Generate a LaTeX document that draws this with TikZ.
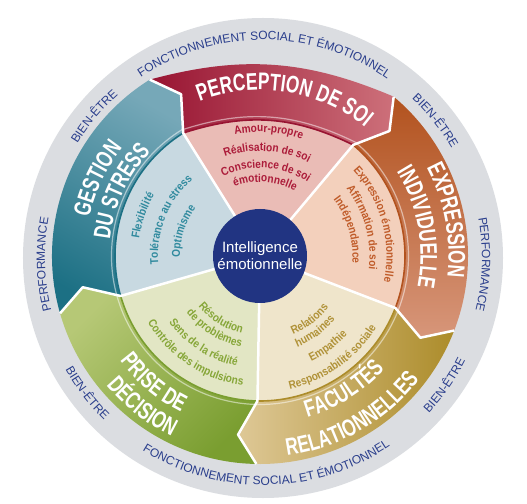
\documentclass[tikz,border=0pt]{standalone}
\usepackage{fontspec}
\setmainfont{Liberation Sans}
\newfontfamily\condfont[FakeStretch=0.88]{Liberation Sans}
\newfontfamily\titlecond[FakeStretch=0.72]{Liberation Sans}
\usetikzlibrary{decorations.text}

\definecolor{RingGray}{RGB}{219,221,225}
\definecolor{RingBlue}{RGB}{42,62,140}
\definecolor{IEBlue}{RGB}{33,52,130}
% perception de soi
\definecolor{RedDark}{RGB}{152,20,50}
\definecolor{RedLight}{RGB}{205,112,122}
\definecolor{RedPale}{RGB}{234,188,182}
\definecolor{RedText}{RGB}{172,28,58}
% expression individuelle
\definecolor{OrangeDark}{RGB}{178,82,30}
\definecolor{OrangeLight}{RGB}{215,150,122}
\definecolor{OrangePale}{RGB}{243,208,188}
\definecolor{OrangeText}{RGB}{192,92,42}
% facultes relationnelles
\definecolor{GoldDark}{RGB}{172,140,42}
\definecolor{GoldLight}{RGB}{222,200,150}
\definecolor{GoldPale}{RGB}{239,229,203}
\definecolor{GoldText}{RGB}{176,146,56}
% prise de decision
\definecolor{GreenDark}{RGB}{122,158,48}
\definecolor{GreenLight}{RGB}{182,200,118}
\definecolor{GreenPale}{RGB}{226,230,196}
\definecolor{GreenText}{RGB}{134,166,56}
% gestion du stress
\definecolor{TealDark}{RGB}{28,112,132}
\definecolor{TealLight}{RGB}{118,168,184}
\definecolor{TealPale}{RGB}{200,217,225}
\definecolor{TealText}{RGB}{48,138,158}

\newcommand{\itemstyle}{\condfont\bfseries\fontsize{11.5}{12}\selectfont}
\newcommand{\titlestyle}{\titlecond\bfseries\fontsize{24}{24}\selectfont}
\newcommand{\ringstyle}{\fontsize{12}{12}\selectfont}

% curved text: cw = tops outward, ccw = tops inward
\newcommand{\cwtext}[6][]{\path[#1, decorate, decoration={text along path, text align=center, #2, text={#6}}] ({#3+#5}:#4) arc[start angle={#3+#5}, end angle={#3-#5}, radius=#4];}
\newcommand{\ccwtext}[6][]{\path[#1, decorate, decoration={text along path, text align=center, #2, text={#6}}] ({#3-#5}:#4) arc[start angle={#3-#5}, end angle={#3+#5}, radius=#4];}
% white titles
\newcommand{\cwtitle}[3]{\cwtext{text color=white}{#1}{#2}{70}{|\titlestyle|#3}}
\newcommand{\ccwtitle}[3]{\ccwtext{text color=white}{#1}{#2}{70}{|\titlestyle|#3}}

\tikzset{
  sep/.style={white, line width=2.5pt, line join=round},
  edgeline/.style={line width=1.6pt},
  edgelight/.style={white, opacity=.5, line width=1.2pt},
  ring/.style={shift={(3,-2)}}
}

\begin{document}
\begin{tikzpicture}[x=1pt,y=1pt]
\useasboundingbox (-260,-247) rectangle (267,256);
\fill[white] (-260,-247) rectangle (267,256);

% outer ring
\fill[RingGray] (3,-2) circle[radius=240];
\cwtext[ring]{text color=RingBlue}{89.6}{218}{60}{|\ringstyle|FONCTIONNEMENT SOCIAL ET ÉMOTIONNEL}
\ccwtext[ring]{text color=RingBlue}{271}{227}{60}{|\ringstyle|FONCTIONNEMENT SOCIAL ET ÉMOTIONNEL}
\cwtext[ring]{text color=RingBlue}{181.7}{218}{30}{|\ringstyle|PERFORMANCE}
\cwtext[ring]{text color=RingBlue}{-1.7}{219}{30}{|\ringstyle|PERFORMANCE}
\cwtext[ring]{text color=RingBlue}{140}{218}{25}{|\ringstyle|BIEN-ÊTRE}
\cwtext[ring]{text color=RingBlue}{38.5}{218}{25}{|\ringstyle|BIEN-ÊTRE}
\ccwtext[ring]{text color=RingBlue}{217.5}{227}{25}{|\ringstyle|BIEN-ÊTRE}
\ccwtext[ring]{text color=RingBlue}{-35}{227}{25}{|\ringstyle|BIEN-ÊTRE}

% bands
\shade[left color=RedDark, right color=RedLight]
  (122:208) to[bend left=19] (50:208) -- (44:180) -- (50:145) to[bend right=22] (122:145) -- (116:180) -- cycle;
\shade[top color=OrangeDark, bottom color=OrangeLight]
  (50:208) arc[start angle=50, end angle=-21, radius=208] -- (-27:180) -- (-21:145)
  arc[start angle=-21, end angle=50, radius=145] -- (44:180) -- cycle;
\shade[left color=GoldLight, right color=GoldDark]
  (-21:208) arc[start angle=-21, end angle=-91, radius=208] -- (-97:180) -- (-91:145)
  arc[start angle=-91, end angle=-21, radius=145] -- (-27:180) -- cycle;
\shade[top color=GreenLight, bottom color=GreenDark, shading angle=45]
  (-91:208) arc[start angle=-91, end angle=-164, radius=208] -- (-170:180) -- (-164:145)
  arc[start angle=-164, end angle=-91, radius=145] -- (-97:180) -- cycle;
\shade[top color=TealLight, bottom color=TealDark, shading angle=-30]
  (196:208) arc[start angle=196, end angle=122, radius=208] -- (116:180) -- (122:145)
  arc[start angle=122, end angle=196, radius=145] -- (190:180) -- cycle;

% inner sectors
\fill[RedPale] (0,0) -- (122:145) to[bend left=22] (50:145) -- cycle;
\fill[OrangePale] (0,0) -- (50:145) arc[start angle=50, end angle=-21, radius=145] -- cycle;
\fill[GoldPale] (0,0) -- (-21:145) arc[start angle=-21, end angle=-91, radius=145] -- cycle;
\fill[GreenPale] (0,0) -- (-91:145) arc[start angle=-91, end angle=-164, radius=145] -- cycle;
\fill[TealPale] (0,0) -- (196:145) arc[start angle=196, end angle=122, radius=145] -- cycle;

% thin lines at the inner edge of the bands
\draw[edgelight] (122:148.5) to[bend left=22] (50:148.5);
\draw[edgeline, RedDark] (122:145) to[bend left=22] (50:145);
\draw[edgelight] (50:148.5) arc[start angle=50, end angle=-21, radius=148.5];
\draw[edgeline, OrangeDark] (50:145) arc[start angle=50, end angle=-21, radius=145];
\draw[edgelight] (-21:148.5) arc[start angle=-21, end angle=-91, radius=148.5];
\draw[edgeline, GoldDark] (-21:145) arc[start angle=-21, end angle=-91, radius=145];
\draw[edgelight] (-91:148.5) arc[start angle=-91, end angle=-164, radius=148.5];
\draw[edgeline, GreenDark] (-91:145) arc[start angle=-91, end angle=-164, radius=145];
\draw[edgelight] (196:148.5) arc[start angle=196, end angle=122, radius=148.5];
\draw[edgeline, TealDark] (196:145) arc[start angle=196, end angle=122, radius=145];

% separators
\foreach \s in {122,50,-21,-91,196}
  \draw[sep] (\s:47) -- (\s:145) -- ({\s-6}:180) -- (\s:208);

% centre
\node[circle, fill=IEBlue, minimum size=94pt, inner sep=0pt, text=white, align=center,
  font=\fontsize{15}{17}\selectfont] (ie) at (0,0) {Intelligence\\émotionnelle};

% perception de soi
\cwtext{text color=RedText}{86}{124}{45}{|\itemstyle|Amour-propre}
\cwtext{text color=RedText}{86}{105}{45}{|\itemstyle|Réalisation de soi}
\cwtext{text color=RedText}{86}{88}{50}{|\itemstyle|Conscience de soi}
\cwtext{text color=RedText}{86}{74}{55}{|\itemstyle|émotionnelle}
% expression individuelle
\cwtext{text color=OrangeText}{15.5}{126.5}{45}{|\itemstyle|Expression émotionnelle}
\cwtext{text color=OrangeText}{15.5}{109.5}{45}{|\itemstyle|Affirmation de soi}
\cwtext{text color=OrangeText}{16.5}{92.5}{45}{|\itemstyle|Indépendance}
% facultes relationnelles
\ccwtext{text color=GoldText}{-52}{85.5}{45}{|\itemstyle|Relations}
\ccwtext{text color=GoldText}{-54}{98.5}{45}{|\itemstyle|humaines}
\ccwtext{text color=GoldText}{-53}{117.5}{45}{|\itemstyle|Empathie}
\ccwtext{text color=GoldText}{-54.5}{136.5}{45}{|\itemstyle|Responsabilité sociale}
% prise de decision
\ccwtext{text color=GreenText}{238}{79.5}{45}{|\itemstyle|Résolution}
\ccwtext{text color=GreenText}{238}{93}{45}{|\itemstyle|de problèmes}
\ccwtext{text color=GreenText}{237}{112.5}{45}{|\itemstyle|Sens de la réalité}
\ccwtext{text color=GreenText}{236.5}{130.5}{45}{|\itemstyle|Contrôle des impulsions}
% gestion du stress
\cwtext{text color=TealText}{161}{122}{45}{|\itemstyle|Flexibilité}
\cwtext{text color=TealText}{158}{102}{45}{|\itemstyle|Tolérance au stress}
\cwtext{text color=TealText}{162}{80}{50}{|\itemstyle|Optimisme}

% titles
\cwtitle{81}{166}{PERCEPTION DE SOI}
\cwtitle{10.8}{188.5}{EXPRESSION}
\cwtitle{10.2}{160.5}{INDIVIDUELLE}
\ccwtitle{-58}{168.5}{FACULTÉS}
\ccwtitle{-60}{201.5}{RELATIONNELLES}
\ccwtitle{230}{175}{PRISE DE}
\ccwtitle{232}{201}{DÉCISION}
\cwtitle{154.5}{175}{GESTION}
\cwtitle{155}{151}{DU STRESS}

\end{tikzpicture}
\end{document}
